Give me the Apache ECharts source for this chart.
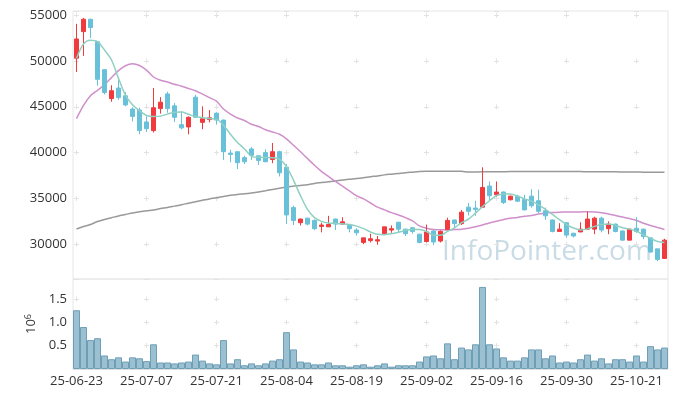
<!DOCTYPE html>
<html>
<head>
<meta charset="utf-8">
<script src="https://cdn.jsdelivr.net/npm/echarts@6/dist/echarts.min.js"></script>
<style>
	html, body { margin: 0; padding: 0; background: #fff; }
	#chart { width: 677px; height: 397px; }
</style>
</head>
<body>
<div id="chart"></div>
<script>
// trading days
var dates = [
	'25-06-23','25-06-24','25-06-25','25-06-26','25-06-27','25-06-30',
	'25-07-01','25-07-02','25-07-03','25-07-04','25-07-07','25-07-08','25-07-09','25-07-10','25-07-11',
	'25-07-14','25-07-15','25-07-16','25-07-17','25-07-18','25-07-21','25-07-22','25-07-23','25-07-24','25-07-25',
	'25-07-28','25-07-29','25-07-30','25-07-31','25-08-01','25-08-04','25-08-05','25-08-06','25-08-07','25-08-08',
	'25-08-11','25-08-12','25-08-13','25-08-14','25-08-18','25-08-19','25-08-20','25-08-21','25-08-22',
	'25-08-25','25-08-26','25-08-27','25-08-28','25-08-29','25-09-01','25-09-02','25-09-03','25-09-04','25-09-05',
	'25-09-08','25-09-09','25-09-10','25-09-11','25-09-12','25-09-15','25-09-16','25-09-17','25-09-18','25-09-19',
	'25-09-22','25-09-23','25-09-24','25-09-25','25-09-26','25-09-29','25-09-30','25-10-01','25-10-02','25-10-10',
	'25-10-13','25-10-14','25-10-15','25-10-16','25-10-17','25-10-20','25-10-21','25-10-22','25-10-23','25-10-24','25-10-27'
];

var opens = [50300,53200,54550,52100,49050,45900,47050,46200,44750,44650,43350,42400,44800,46400,45100,43050,42800,46050,43300,43600,
	44300,43550,39950,40100,39450,40400,39650,40000,39250,40100,38400,34000,32350,32850,32600,31950,31900,32750,32200,32050,
	31550,30200,30400,30350,31150,31550,32400,31650,31800,31100,30300,31450,30350,31600,32650,32250,34050,33950,34050,36350,
	35400,35700,34850,35250,34900,35250,34750,33650,32650,31400,32350,31200,31350,31650,31650,32850,31700,32200,31450,30450,
	31750,31650,30700,29500,28450];
var closes = [52400,54550,53650,48000,46550,46750,46000,45200,43950,42400,42600,44900,45500,44800,43850,42700,43850,43850,43700,43800,
	43550,40100,39800,38900,39000,39700,39150,39000,40100,37800,33200,32600,32750,32200,31700,32100,32150,32200,32450,31700,
	31250,30700,30600,30500,31900,31700,31650,31150,31400,30200,31350,30250,31400,32600,32250,33500,33600,33800,36200,35300,
	35700,34550,35250,34700,33750,34200,33600,33100,31400,31650,31000,30900,31650,32750,32850,31550,32200,31400,30450,31650,
	31400,30850,29150,28350,30450];
var lows = [48800,50550,52500,47300,46350,45550,45750,45050,43400,42000,42250,42200,44250,44350,43350,42550,42000,43800,42550,43300,
	43050,39200,38950,38200,38750,39200,38650,38950,38850,37400,32200,32100,32050,32050,31550,31300,31900,31550,32150,31300,
	30950,30000,30200,29950,31050,31250,31300,30900,31150,30100,30200,29900,30200,31550,31850,32100,33150,33100,34000,34850,
	35200,34400,34800,34600,33700,34000,33400,32650,31300,31400,30700,30750,31300,31600,31100,31300,31100,31300,30400,30450,
	31250,30550,29100,28150,28400];
var highs = [54050,54700,54600,52100,49050,47350,47950,46600,44950,44900,43950,47050,46050,46650,45400,44500,43950,46300,45050,44650,
	44400,43600,40300,40100,39650,40600,39700,40350,41050,40200,38750,34200,32800,32900,32700,32350,33100,32800,32950,32100,
	31750,30700,31150,30900,31900,32050,32450,31700,31850,31150,32150,31500,31500,32900,32700,33750,34500,34750,38400,36850,
	36850,35750,35300,35400,35400,36000,35950,34000,32700,32300,32400,31250,32400,33550,33000,33000,32500,32250,31500,31700,
	32950,31700,30700,29500,30600];

// moving averages
var ma5 = [50300,51850,52250,52100,51200,50100,48100,46250,45210,44560,44050,43930,43980,44200,44400,44420,44180,43930,43800,43720,
	43650,42980,42000,41100,40400,39600,39480,39470,39450,39300,38470,37000,35300,33800,32900,32500,32320,32280,32230,32150,
	31980,31700,31340,31080,31050,31150,31320,31520,31620,31620,31400,31000,30980,31400,31800,32350,32750,33400,34100,34750,
	35300,35480,35490,35250,34950,34700,34300,33800,33250,32680,32150,31780,31560,31680,31950,32150,32220,32050,31800,31650,
	31400,31020,30650,30300,30180];
var ma20 = [43700,45150,46200,46800,47400,48200,48950,49480,49690,49500,49000,48250,47900,47700,47460,47250,47000,46750,46380,46000,
	45620,44750,44200,43780,43500,43100,42850,42500,42250,42000,41500,40800,40100,39350,38620,37950,37400,36850,36330,35820,
	35300,34950,34500,34050,33750,33450,33200,32900,32550,32000,31750,31620,31570,31560,31600,31650,31750,31900,32100,32330,
	32500,32700,32840,32930,33050,33150,33300,33420,33470,33500,33520,33530,33530,33540,33530,33450,33300,33150,32980,32800,
	32600,32300,32050,31830,31620];
var ma120 = [31670,31930,32160,32480,32710,32900,33090,33250,33420,33550,33660,33740,33890,34010,34160,34310,34480,34640,34800,34950,
	35070,35220,35350,35440,35510,35600,35710,35840,35980,36110,36260,36350,36420,36500,36640,36730,36820,36910,37020,37100,
	37170,37260,37370,37460,37570,37650,37730,37810,37870,37930,37960,37970,37970,37970,37970,37960,37880,37890,37900,37900,
	37910,37920,37930,37930,37930,37930,37930,37930,37930,37930,37930,37930,37930,37920,37920,37910,37900,37900,37890,37880,
	37880,37870,37870,37860,37860];

// volume, millions of shares
var volumes = [1.26,0.90,0.62,0.66,0.29,0.21,0.25,0.16,0.25,0.23,0.17,0.53,0.14,0.14,0.12,0.14,0.16,0.31,0.18,0.12,
	0.10,0.62,0.12,0.21,0.08,0.12,0.08,0.12,0.18,0.21,0.79,0.42,0.16,0.14,0.10,0.10,0.14,0.08,0.08,0.05,
	0.08,0.10,0.05,0.08,0.12,0.05,0.08,0.08,0.08,0.16,0.27,0.29,0.23,0.55,0.21,0.46,0.42,0.53,1.76,0.53,
	0.44,0.25,0.18,0.18,0.25,0.42,0.42,0.23,0.29,0.14,0.16,0.14,0.21,0.31,0.18,0.23,0.12,0.21,0.21,0.16,
	0.29,0.16,0.49,0.42,0.46];

var priceMin = 26210, priceMax = 55450;
var volMax = 1.93;

var chart = {

	build: function() {
		var myChart = echarts.init(document.getElementById('chart'));
		var font = 'Open Sans';
		var crossColor = '#e2e2e2';

		var candles = [];
		for (var i = 0; i < dates.length; i++) {
			candles.push([opens[i], closes[i], lows[i], highs[i]]);
		}

		var xCommon = function(gridIndex, showLabel, dash, dashOffset) {
			return {
				type: 'category',
				gridIndex: gridIndex,
				data: dates,
				boundaryGap: true,
				axisLine: { show: showLabel, lineStyle: { color: '#e0e0e0' } },
				axisTick: { show: false },
				axisLabel: {
					show: showLabel,
					interval: 9,
					color: '#333',
					fontSize: 13,
					fontFamily: font,
					margin: 6
				},
				splitLine: {
					show: true,
					interval: 9,
					alignWithLabel: true,
					lineStyle: { color: crossColor, width: 1, type: dash, dashOffset: dashOffset }
				}
			};
		};

		var option = {
			animation: false,
			backgroundColor: '#fff',
			textStyle: { fontFamily: font },
			grid: [
				{ left: 73, width: 595, top: 11, height: 268, show: true, borderColor: '#e6e6e6', borderWidth: 1 },
				{ left: 73, width: 595, top: 279, height: 90, show: true, borderColor: '#e6e6e6', borderWidth: 1 }
			],
			graphic: [{
				type: 'text',
				x: 442,
				y: 238,
				z: -10,
				silent: true,
				style: {
					text: 'InfoPointer.com',
					fill: '#c9dce6',
					fontSize: 28,
					fontFamily: 'Open Sans'
				}
			}],
			xAxis: [
				xCommon(0, false, [5, 40.83], 44.2),
				xCommon(1, true, [5, 18.32], 5.8)
			],
			yAxis: [{
				type: 'value',
				gridIndex: 0,
				min: priceMin,
				max: priceMax,
				splitNumber: 5,
				axisLine: { show: false },
				axisTick: { show: false },
				axisLabel: {
					color: '#333',
					fontSize: 13,
					fontFamily: font,
					margin: 6,
					showMinLabel: false,
					showMaxLabel: false,
					formatter: function(v) { return String(v); }
				},
				splitLine: {
					show: true,
					lineStyle: { color: crossColor, width: 1, type: [5, 65], dashOffset: 69 }
				}
			}, {
				type: 'value',
				gridIndex: 1,
				min: 0,
				max: volMax,
				splitNumber: 4,
				name: '10{s|6}',
				nameLocation: 'middle',
				nameRotate: 90,
				nameGap: 30,
				nameTextStyle: {
					color: '#333',
					fontSize: 13,
					fontFamily: font,
					rich: { s: { fontSize: 9, verticalAlign: 'top', color: '#333', padding: [0, 0, 6, 0] } }
				},
				axisLine: { show: false },
				axisTick: { show: false },
				axisLabel: {
					color: '#333',
					fontSize: 13,
					fontFamily: font,
					margin: 6,
					showMinLabel: false,
					showMaxLabel: false,
					formatter: function(v) { return v.toFixed(1); }
				},
				splitLine: {
					show: true,
					lineStyle: { color: crossColor, width: 1, type: [5, 65], dashOffset: 69 }
				}
			}],
			series: [{
				name: 'MA120',
				type: 'line',
				data: ma120,
				symbol: 'none',
				smooth: 0.3,
				lineStyle: { color: '#999999', width: 1.5 },
				z: 3
			}, {
				name: 'MA20',
				type: 'line',
				data: ma20,
				symbol: 'none',
				smooth: 0.3,
				lineStyle: { color: '#cf8fca', width: 1.5 },
				z: 3
			}, {
				name: 'price',
				type: 'candlestick',
				data: candles,
				barWidth: 5,
				itemStyle: {
					color: '#f03a3d',
					color0: '#68c1d9',
					borderColor: '#f03a3d',
					borderColor0: '#68c1d9',
					borderWidth: 1
				},
				z: 4
			}, {
				name: 'MA5',
				type: 'line',
				data: ma5,
				symbol: 'none',
				smooth: 0.3,
				lineStyle: { color: '#8ed0c2', width: 1.5 },
				z: 5
			}, {
				name: 'volume',
				type: 'bar',
				xAxisIndex: 1,
				yAxisIndex: 1,
				data: volumes,
				barCategoryGap: '0%',
				itemStyle: {
					color: '#9bc0d1',
					borderColor: '#6f9fb6',
					borderWidth: 1
				}
			}]
		};
		myChart.setOption(option);
	}

};

chart.build();
</script>
</body>
</html>
